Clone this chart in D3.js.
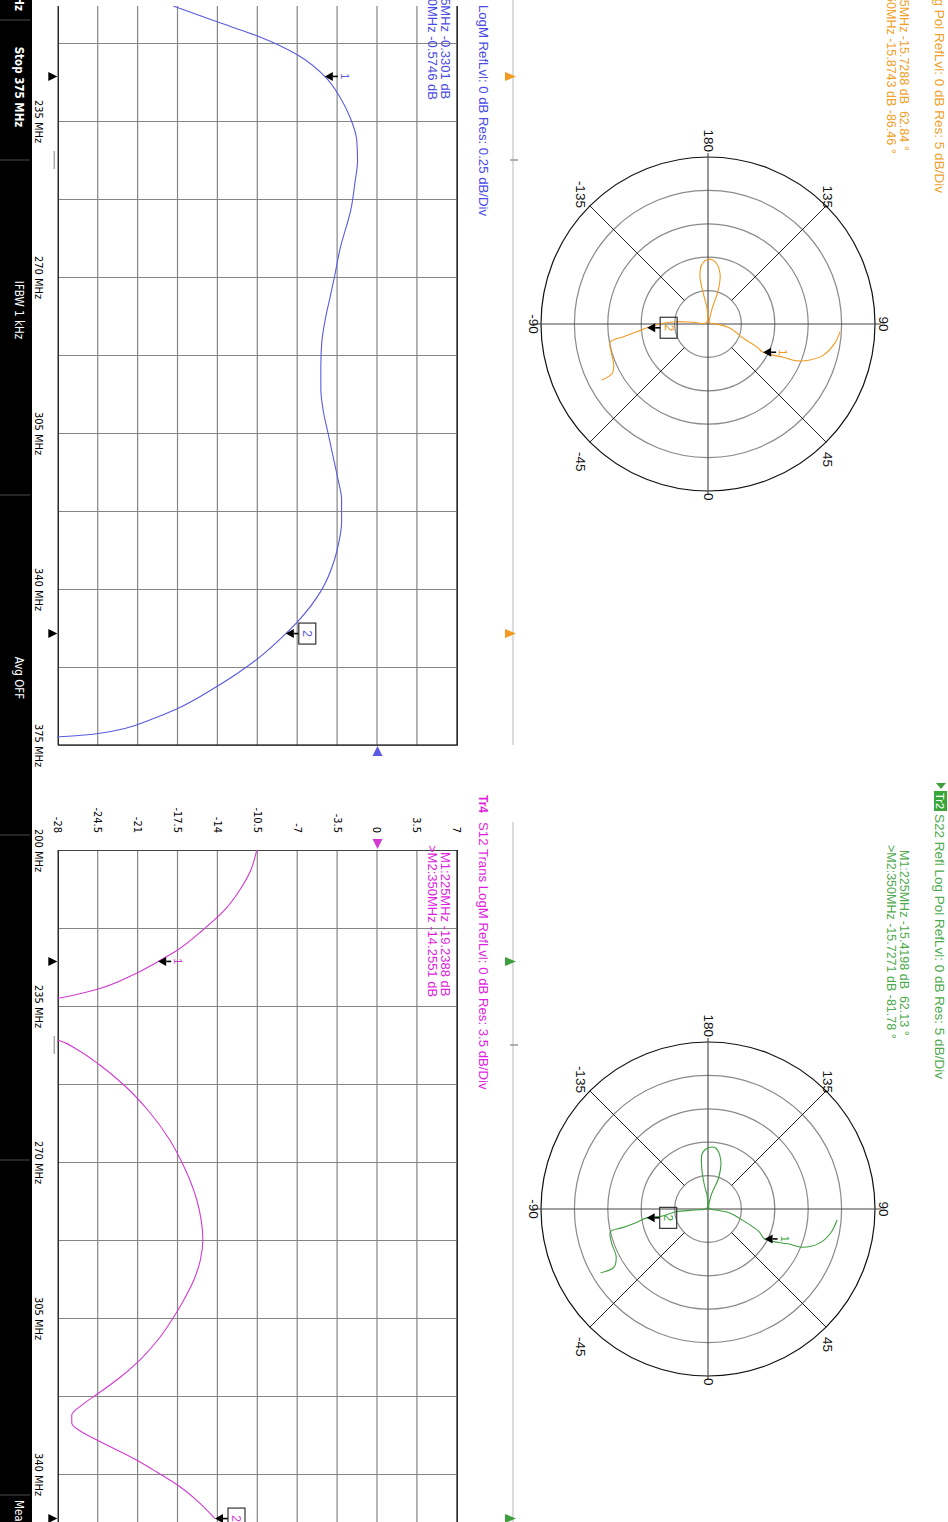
<!DOCTYPE html>
<html>
<head>
<meta charset="utf-8">
<title>VNA screen</title>
<style>
html, body { margin: 0; padding: 0; background: #fff; }
svg { display: block; }
text { font-family: "Liberation Sans", Arial, sans-serif; }
.cond { font-family: "DejaVu Sans Condensed", "Liberation Sans Narrow", "DejaVu Sans", sans-serif; font-stretch: condensed; }
</style>
<script src="https://cdn.jsdelivr.net/npm/d3@7"></script>
</head>
<body>
<div id="container"></div>
<script>
// Sweep and tick labels
const sweepStart = 200, sweepStop = 375;
const freqTicks = [200, 235, 270, 305, 340, 375];
const markerFreqs = [225, 350];
const cursorFreq = 243.75;

// Tr3 (blue) LogM, 0.25 dB/div
const s21Ticks = [0.5, 0.25, 0, -0.25, -0.5, -0.75, -1, -1.25, -1.5, -1.75, -2];
const s21Freq = [209.2, 212.7, 216.1, 220.2, 225, 229.6, 234, 239.3, 243.8, 249, 254.2, 263.9, 270, 275, 280, 285, 290, 295, 300, 305, 310, 315, 320, 325, 330, 333.5, 340.2, 347.3, 350, 355.55, 361.92, 366.92, 369.39, 371.3, 372.2, 372.76, 373.14, 373.6];
const s21Db = [-1.28, -1.01, -0.74, -0.5, -0.3301, -0.236, -0.174, -0.13, -0.125, -0.142, -0.163, -0.236, -0.27, -0.3, -0.33, -0.35, -0.355, -0.355, -0.34, -0.31, -0.28, -0.25, -0.225, -0.225, -0.245, -0.27, -0.35, -0.5, -0.5746, -0.748, -1.009, -1.259, -1.427, -1.583, -1.709, -1.834, -1.991, -2.3];
const s21MarkerDb = [-0.3301, -0.5746];

// Tr4 (magenta) S12 LogM, 3.5 dB/div
const s12Ticks = [7, 3.5, 0, -3.5, -7, -10.5, -14, -17.5, -21, -24.5, -28];
const s12Freq = [200, 204.49, 208.97, 213.46, 217.95, 222.44, 225, 228.05, 231.41, 233.27, 237.5, 242.63, 244.87, 248.24, 252.5, 258.33, 265.06, 270, 278.53, 287.5, 291.99, 296.48, 300.96, 305.45, 309.94, 314.43, 318.92, 322.28, 324.53, 326.77, 328.57, 330.59, 332.38, 336.87, 339.56, 342.48, 345.85, 350];
const s12Db = [-10.59, -11.11, -12.08, -13.4, -15.32, -17.53, -19.2388, -21.47, -24.8, -28.02, -42, -28.05, -26.29, -24.36, -22.34, -20.15, -18.22, -17.17, -15.85, -15.32, -15.54, -16.11, -16.99, -18.04, -19.27, -20.85, -22.87, -24.71, -25.94, -26.82, -26.82, -25.94, -24.62, -21.14, -19.36, -17.54, -15.88, -14.2551];
const s12MarkerDb = [-19.2388, -14.2551];

// Polar grids, 5 dB/div
const polarRings = [0, -5, -10, -15, -20];
const polarAngles = [0, 45, 90, 135, 180, -135, -90, -45];

// Tr1 (orange) S11 log polar: magnitude dB, phase deg, in sweep order
const s11Mag = [-5.2, -5.8, -7.1, -8.8, -10.6, -12.7, -15.73, -17.0, -19.3, -21.6, -23.7, -24.7, -22.8, -19.7, -17.2, -15.6, -15.3, -16.1, -17.8, -20.4, -22.9, -24.7, -22.8, -20.3, -18.3, -15.87, -14.3, -12.2, -10.1, -9.9, -9.6, -8.8, -7.0];
const s11Phase = [86.7, 81.4, 74.9, 70.6, 67.5, 66.1, 62.84, 65.0, 67.9, 79, 90, 120, 165.2, 163.1, 166.7, 173.6, 179.7, -173.9, -170.4, -171.3, -177, -130, -96.6, -94.2, -90.9, -86.46, -83.8, -81.5, -79.4, -73.1, -66.4, -62.6, -62.2];
const s11MarkerMag = [-15.7288, -15.8743];
const s11MarkerPhase = [62.84, -86.46];

// Tr2 (green) S22 log polar
const s22Mag = [-5.6, -6.3, -7.6, -9.8, -11.8, -15.42, -16.6, -19.6, -21.8, -23.8, -24.8, -23.1, -19.9, -17.4, -15.8, -15.8, -16.6, -18.6, -21.1, -23.2, -24.8, -23.1, -20.2, -18.1, -15.73, -14.0, -11.9, -10.0, -9.7, -9.5, -8.4, -6.3];
const s22Phase = [85.1, 78.8, 72.8, 67.9, 66.6, 62.13, 66.0, 72.2, 80, 82.6, 120, 167.6, 161.2, 165.5, 172.8, 179.1, -174.2, -171.5, -171.2, -176.7, -130, -85.4, -85.2, -81.3, -81.78, -79.3, -77.7, -76.9, -70.4, -62.5, -58.2, -59.3];
const s22MarkerMag = [-15.4198, -15.7271];
const s22MarkerPhase = [62.13, -81.78];

// The screen is drawn in its own landscape frame, then turned a quarter turn clockwise.
const W = 1522, H = 948;
const svg = d3.select("#container").append("svg")
    .attr("width", H)
    .attr("height", W);
svg.append("rect").attr("width", H).attr("height", W).attr("fill", "#fff");
const root = svg.append("g").attr("transform", `translate(${H},0) rotate(90)`);
const defs = root.append("defs");

const plotTop = 490.7, plotBottom = 889.7;
const gridColor = "#858585";

function marker(g, px, py, label, boxed, color) {
    const m = g.append("g").attr("transform", `translate(${px},${py})`);
    m.append("path").attr("d", "M0,0L-4.5,-8L4.5,-8Z").attr("fill", "#000");
    m.append("line").attr("y1", -8).attr("y2", -13).attr("stroke", "#000").attr("stroke-width", 1.6);
    if (boxed) {
        m.append("rect").attr("x", -10.5).attr("y", -30).attr("width", 21).attr("height", 17)
            .attr("fill", "none").attr("stroke", "#333").attr("stroke-width", 1.2);
        m.append("text").attr("y", -17.5).attr("text-anchor", "middle")
            .attr("font-size", 12).attr("fill", color).text(label);
    } else {
        m.append("text").attr("y", -16).attr("text-anchor", "middle")
            .attr("font-size", 11).attr("fill", color).text(label);
    }
}

function logmChart(o) {
    const x = d3.scaleLinear().domain([sweepStart, sweepStop]).range([o.u0, o.u0 + 780]);
    const y = d3.scaleLinear().domain([o.ticks[o.ticks.length - 1], o.ticks[0]]).range([plotBottom, plotTop]);
    const g = root.append("g");
    defs.append("clipPath").attr("id", o.id).append("rect")
        .attr("x", o.clipFrom).attr("y", plotTop - 1)
        .attr("width", o.u0 + 780 - o.clipFrom + 1).attr("height", plotBottom - plotTop + 2);
    const grid = g.append("g").attr("clip-path", `url(#${o.id})`);

    // horizontal grid (dB divisions)
    grid.append("g").attr("transform", `translate(${o.u0},0)`)
        .call(d3.axisLeft(y).tickValues(o.ticks).tickSize(-780).tickFormat(""))
        .call(a => a.select(".domain").remove())
        .selectAll("line").attr("stroke", gridColor).attr("stroke-width", 1.2);
    // vertical grid (frequency divisions)
    grid.append("g").attr("transform", `translate(0,${plotBottom})`)
        .call(d3.axisBottom(x).tickValues(d3.range(11).map(i => sweepStart + i * 17.5))
            .tickSize(-(plotBottom - plotTop)).tickFormat(""))
        .call(a => a.select(".domain").remove())
        .selectAll("line").attr("stroke", gridColor).attr("stroke-width", 1.2);
    grid.append("rect").attr("x", o.u0).attr("y", plotTop).attr("width", 780)
        .attr("height", plotBottom - plotTop).attr("fill", "none")
        .attr("stroke", "#222").attr("stroke-width", 1.3);

    // trace
    grid.append("path")
        .datum(o.freq.map((f, i) => [f, o.db[i]]))
        .attr("fill", "none").attr("stroke", o.color).attr("stroke-width", 1.1)
        .attr("d", d3.line().x(d => x(d[0])).y(d => y(d[1])).curve(d3.curveMonotoneX));

    // frequency labels
    g.append("g").attr("transform", `translate(0,${plotBottom})`)
        .call(d3.axisBottom(x).tickValues(freqTicks).tickSize(0).tickPadding(16).tickFormat(d => d + " MHz"))
        .call(a => a.select(".domain").remove())
        .selectAll("text").attr("class", "cond").attr("font-size", 11).attr("fill", "#000");
    // amplitude labels
    g.append("g").attr("transform", `translate(${o.u0},0)`)
        .call(d3.axisLeft(y).tickValues(o.ticks).tickSize(0).tickPadding(17).tickFormat(d => String(d)))
        .call(a => a.select(".domain").remove())
        .selectAll("text").attr("class", "cond").attr("font-size", 11).attr("fill", "#000");

    // marker position triangles under the grid
    markerFreqs.forEach(f => {
        g.append("path").attr("transform", `translate(${x(f)},${plotBottom + 1})`)
            .attr("d", "M0,0L-4.5,9L4.5,9Z").attr("fill", "#000");
    });
    g.append("line").attr("x1", x(cursorFreq) - 9).attr("x2", x(cursorFreq) + 9)
        .attr("y1", plotBottom + 4).attr("y2", plotBottom + 4)
        .attr("stroke", "#aaa").attr("stroke-width", 1.5);

    // reference level triangle
    const ry = y(0);
    if (o.refSide === "left") {
        g.append("path").attr("transform", `translate(${o.u0 - 1},${ry})`)
            .attr("d", "M0,0L-10,-5L-10,5Z").attr("fill", o.color);
    } else {
        g.append("path").attr("transform", `translate(${o.u0 + 781},${ry})`)
            .attr("d", "M0,0L10,-5L10,5Z").attr("fill", o.color);
    }

    // trace markers
    marker(g, x(markerFreqs[0]), y(o.mk[0]), "1", false, o.color);
    marker(g, x(markerFreqs[1]), y(o.mk[1]), "2", true, o.color);

    // title and readouts
    const t = g.append("g").attr("fill", o.textColor).attr("font-size", 13);
    if (o.trLabel) {
        t.append("text").attr("x", o.u0 - 55).attr("y", 469.5).attr("font-weight", "bold")
            .attr("font-size", 12).text(o.trLabel);
    }
    t.append("text").attr("x", o.titleX).attr("y", 469.5).attr("text-anchor", o.titleAnchor)
        .attr("font-size", 13.2).style("white-space", "pre").text(o.title);
    t.append("text").attr("x", o.readX).attr("y", 507.5).style("white-space", "pre").text(o.readout[0]);
    t.append("text").attr("x", o.readX - 7).attr("y", 520.5).style("white-space", "pre").text(o.readout[1]);
}

function polarChart(o) {
    const cv = 240, R = 167;
    const r = d3.scaleLinear().domain([-25, 0]).range([0, R]);
    const pt = (m, p) => [o.cu + r(m) * Math.cos(p * Math.PI / 180), cv - r(m) * Math.sin(p * Math.PI / 180)];
    const g = root.append("g");

    polarRings.forEach(db => {
        g.append("circle").attr("cx", o.cu).attr("cy", cv).attr("r", r(db))
            .attr("fill", "none").attr("stroke", db === 0 ? "#111" : "#8a8a8a").attr("stroke-width", 1.2);
    });
    // main axes through the centre
    g.append("line").attr("x1", o.cu - R - 4).attr("x2", o.cu + R + 3).attr("y1", cv).attr("y2", cv)
        .attr("stroke", "#444").attr("stroke-width", 1.1);
    g.append("line").attr("x1", o.cu).attr("x2", o.cu).attr("y1", cv - R - 6).attr("y2", cv + R + 8)
        .attr("stroke", "#444").attr("stroke-width", 1.1);
    // diagonal spokes from the first ring outwards
    [45, 135, -135, -45].forEach(a => {
        const p0 = pt(-20, a), p1 = pt(0, a);
        g.append("line").attr("x1", p0[0]).attr("y1", p0[1]).attr("x2", p1[0]).attr("y2", p1[1])
            .attr("stroke", "#222").attr("stroke-width", 1);
    });
    // angle labels
    polarAngles.forEach(a => {
        const p = pt(0, a);
        let anchor = "middle", dx = 0, dy = 0;
        if (a === 0) { anchor = "start"; dx = 2; }
        else if (a === 180) { anchor = "end"; dx = -5; }
        else if (a === 90) { dy = -8; }
        else if (a === -90) { dy = 8; }
        else if (a === 45) { anchor = "start"; dx = 10; dy = -1; }
        else if (a === -45) { anchor = "start"; dx = 10; dy = 9; }
        else if (a === 135) { anchor = "end"; dx = 2; dy = -1; }
        else if (a === -135) { anchor = "end"; dx = 2; dy = 9; }
        g.append("text").attr("x", p[0] + dx).attr("y", p[1] + dy)
            .attr("text-anchor", anchor).attr("dominant-baseline", "central")
            .attr("font-size", 13.5).attr("fill", "#111").text(String(a));
    });

    // trace
    g.append("path")
        .datum(o.mag.map((m, i) => pt(m, o.phase[i])))
        .attr("fill", "none").attr("stroke", o.color).attr("stroke-width", 1.1)
        .attr("d", d3.line().curve(d3.curveCatmullRom.alpha(0.5)));

    const m1 = pt(o.mkMag[0], o.mkPhase[0]), m2 = pt(o.mkMag[1], o.mkPhase[1]);
    marker(g, m1[0], m1[1], "1", false, o.color);
    marker(g, m2[0], m2[1], "2", true, o.color);

    // frequency bar with marker positions
    const x = d3.scaleLinear().domain([sweepStart, sweepStop]).range([o.cu - 359, o.cu + 421]);
    g.append("line").attr("x1", x(sweepStart) - 28).attr("x2", x(sweepStop)).attr("y1", 435).attr("y2", 435)
        .attr("stroke", "#c4c4c4").attr("stroke-width", 1.2);
    markerFreqs.forEach(f => {
        g.append("path").attr("transform", `translate(${x(f)},432)`)
            .attr("d", "M0,0L-4.5,11L4.5,11Z").attr("fill", o.color);
    });
    g.append("line").attr("x1", x(cursorFreq)).attr("x2", x(cursorFreq)).attr("y1", 430).attr("y2", 438)
        .attr("stroke", "#999").attr("stroke-width", 1.5);

    // title and readouts
    const t = g.append("g").attr("fill", o.textColor).attr("font-size", 12.5);
    if (o.trLabel) {
        t.append("path").attr("transform", `translate(${o.cu - 426},7)`)
            .attr("d", "M0,-5L6,0L0,5Z").attr("fill", o.color);
        t.append("rect").attr("x", o.cu - 418).attr("y", 1).attr("width", 20).attr("height", 13).attr("fill", o.boxColor);
        t.append("text").attr("x", o.cu - 408).attr("y", 12).attr("text-anchor", "middle")
            .attr("fill", "#fff").attr("font-size", 11).text(o.trLabel);
    }
    t.append("text").attr("x", o.cu - 395).attr("y", 13).attr("font-size", 13.5)
        .style("white-space", "pre").text(o.title);
    t.append("text").attr("x", o.cu - 359).attr("y", 48.5).style("white-space", "pre").text(o.readout[0]);
    t.append("text").attr("x", o.cu - 364).attr("y", 61.5).style("white-space", "pre").text(o.readout[1]);
}

// Upper row: log polar reflection traces
polarChart({
    cu: 324, mag: s11Mag, phase: s11Phase, mkMag: s11MarkerMag, mkPhase: s11MarkerPhase,
    color: "#f29a22", textColor: "#f0a028",
    title: "S11 Refl Log Pol RefLvl: 0 dB Res: 5 dB/Div",
    readout: ["M1:225MHz -15.7288 dB  62.84 °", ">M2:350MHz -15.8743 dB -86.46 °"]
});
polarChart({
    cu: 1209, mag: s22Mag, phase: s22Phase, mkMag: s22MarkerMag, mkPhase: s22MarkerPhase,
    color: "#3f9f3f", textColor: "#4caa4c", boxColor: "#3aa63a", trLabel: "Tr2",
    title: "S22 Refl Log Pol RefLvl: 0 dB Res: 5 dB/Div",
    readout: ["M1:225MHz -15.4198 dB  62.13 °", ">M2:350MHz -15.7271 dB -81.78 °"]
});

// Lower row: LogM traces
logmChart({
    id: "clipS21", u0: -35, clipFrom: 6, ticks: s21Ticks, freq: s21Freq, db: s21Db, mk: s21MarkerDb,
    color: "#5a5ae2", textColor: "#4a4ae4", refSide: "right",
    title: "LogM RefLvl: 0 dB Res: 0.25 dB/Div", titleX: 216, titleAnchor: "end", readX: -38,
    readout: ["M1:225MHz -0.3301 dB", ">M2:350MHz -0.5746 dB"]
});
logmChart({
    id: "clipS12", u0: 850, clipFrom: 850, ticks: s12Ticks, freq: s12Freq, db: s12Db, mk: s12MarkerDb,
    color: "#d23ad2", textColor: "#e01ee0", refSide: "left", trLabel: "Tr4",
    title: "S12 Trans LogM RefLvl: 0 dB Res: 3.5 dB/Div", titleX: 822, titleAnchor: "start", readX: 852,
    readout: ["M1:225MHz -19.2388 dB", ">M2:350MHz -14.2551 dB"]
});

// Status bar along the bottom edge
const statusDividers = [20, 160, 495, 835, 1160, 1495];
const statusItems = [
    { text: "Start 200 MHz", u: 11, anchor: "end", bold: true },
    { text: "Stop 375 MHz", u: 87, anchor: "middle", bold: true },
    { text: "IFBW 1 kHz", u: 310, anchor: "middle", bold: false },
    { text: "Avg OFF", u: 678, anchor: "middle", bold: false },
    { text: "Meas", u: 1500, anchor: "start", bold: false }
];
const bar = root.append("g");
bar.append("rect").attr("x", 0).attr("y", 916).attr("width", W).attr("height", H - 916).attr("fill", "#000");
statusDividers.forEach(u => {
    bar.append("line").attr("x1", u).attr("x2", u).attr("y1", 918).attr("y2", H)
        .attr("stroke", "#4a4a4a").attr("stroke-width", 1);
});
statusItems.forEach(s => {
    bar.append("text").attr("class", "cond").attr("x", s.u).attr("y", 933)
        .attr("text-anchor", s.anchor).attr("font-size", 11.5)
        .attr("font-weight", s.bold ? "bold" : "normal").attr("fill", "#fff").text(s.text);
});
</script>
</body>
</html>
